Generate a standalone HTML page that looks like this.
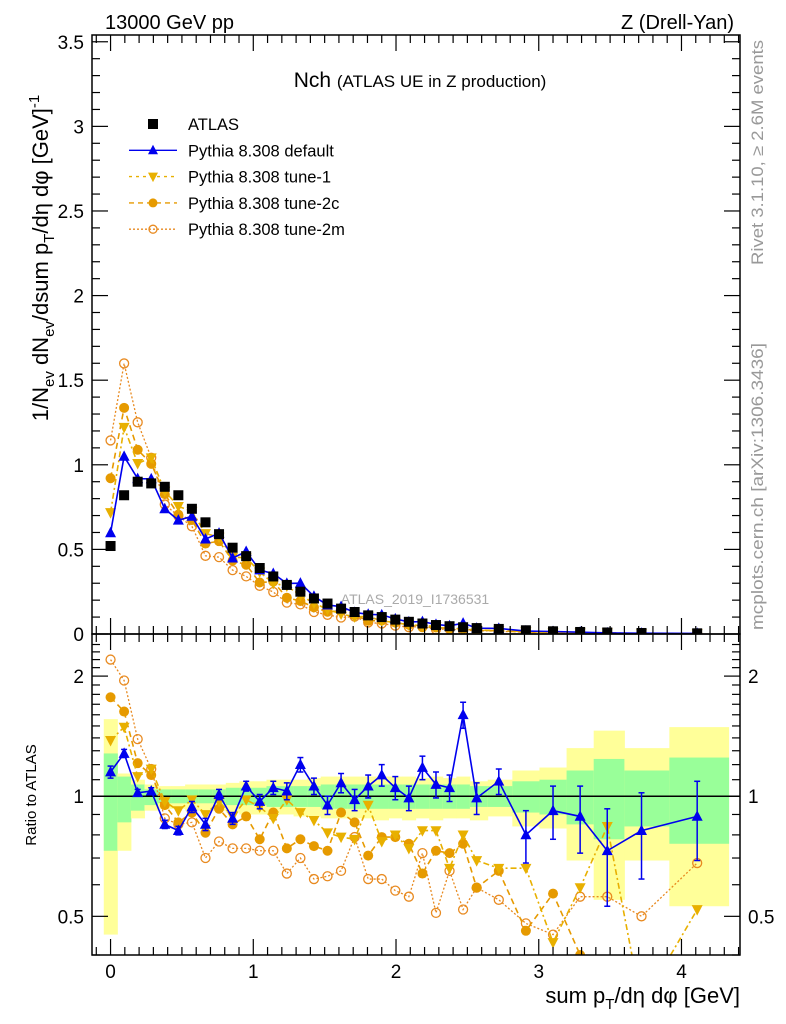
<!DOCTYPE html>
<html><head><meta charset="utf-8">
<style>
html,body{margin:0;padding:0;background:#fff;}
svg{display:block;font-family:"Liberation Sans",Arial,sans-serif;}
</style></head>
<body>
<svg id="chart" width="786" height="1024" viewBox="0 0 786 1024" xmlns="http://www.w3.org/2000/svg">
<text x="105" y="29" font-size="20">13000 GeV pp</text>
<text x="734" y="29" font-size="20" text-anchor="end">Z (Drell-Yan)</text>
<text x="420" y="87" font-size="21" text-anchor="middle">Nch <tspan font-size="17">(ATLAS UE in Z production)</tspan></text>
<text transform="translate(763,265) rotate(-90)" font-size="16.5" fill="#999" textLength="225" lengthAdjust="spacingAndGlyphs">Rivet 3.1.10, ≥ 2.6M events</text>
<text transform="translate(763,630) rotate(-90)" font-size="16.5" fill="#999" textLength="287" lengthAdjust="spacingAndGlyphs">mcplots.cern.ch [arXiv:1306.3436]</text>
<text x="415" y="604" font-size="14" fill="#aaa" text-anchor="middle">ATLAS_2019_I1736531</text>
<text transform="translate(48,258) rotate(-90)" font-size="22" text-anchor="middle">1/N<tspan font-size="15" dy="6">ev</tspan><tspan dy="-6"> dN</tspan><tspan font-size="15" dy="6">ev</tspan><tspan dy="-6">/dsum p</tspan><tspan font-size="15" dy="6">T</tspan><tspan dy="-6">/dη dφ  [GeV]</tspan><tspan font-size="15" dy="-9">-1</tspan></text>
<text transform="translate(36,795) rotate(-90)" font-size="15" text-anchor="middle">Ratio to ATLAS</text>
<text x="740" y="1003" font-size="22" text-anchor="end">sum p<tspan font-size="15" dy="6">T</tspan><tspan dy="-6">/dη dφ [GeV]</tspan></text>
<g id="main"></g>
<g id="ratio"></g>
<g id="legend"></g>
</svg>
<script>
const xVals = [0,0.095,0.19,0.285,0.38,0.475,0.57,0.665,0.76,0.855,0.95,1.045,1.14,1.235,1.33,1.425,1.52,1.615,1.71,1.805,1.9,1.995,2.09,2.185,2.28,2.375,2.47,2.565,2.72,2.91,3.10,3.29,3.48,3.72,4.11];
const atlasVals = [0.52,0.82,0.9,0.89,0.87,0.82,0.74,0.66,0.59,0.51,0.46,0.39,0.34,0.29,0.25,0.21,0.18,0.15,0.13,0.11,0.1,0.085,0.072,0.062,0.053,0.046,0.04,0.035,0.03,0.022,0.016,0.012,0.009,0.006,0.004];
const ratioDefault = [1.15,1.28,1.02,1.03,0.85,0.82,0.94,0.85,1.01,0.88,1.06,0.97,1.05,1.03,1.2,1.06,0.95,1.08,0.98,1.06,1.13,1.05,0.99,1.18,1.07,1.05,1.6,0.99,1.09,0.80,0.92,0.89,0.73,0.82,0.89];
const errDefault = [0.04,0.03,0.02,0.02,0.02,0.02,0.03,0.03,0.03,0.03,0.03,0.04,0.04,0.05,0.05,0.05,0.05,0.06,0.06,0.07,0.07,0.07,0.07,0.08,0.08,0.08,0.12,0.09,0.08,0.12,0.14,0.17,0.2,0.2,0.2];
const ratioTune1 = [1.38,1.49,1.12,1.17,0.97,0.92,0.98,0.90,0.97,0.89,0.98,0.94,0.88,0.98,0.91,0.87,0.81,0.79,0.78,0.95,0.77,0.80,0.74,0.82,0.82,0.66,0.80,0.69,0.66,0.66,0.43,0.59,0.84,0.30,0.52];
const ratioTune2c = [1.77,1.63,1.21,1.13,0.95,0.86,0.91,0.81,0.93,0.85,0.89,0.78,0.91,0.74,0.78,0.75,0.73,0.91,0.86,0.71,0.79,0.79,0.76,0.64,0.73,0.72,0.76,0.59,0.65,0.46,0.57,0.40,0.30,0.30,0.30];
const ratioTune2m = [2.2,1.95,1.39,1.17,0.88,0.85,0.86,0.70,0.77,0.74,0.74,0.73,0.73,0.64,0.70,0.62,0.63,0.65,0.79,0.62,0.62,0.58,0.56,0.72,0.51,0.65,0.52,0.59,0.55,0.48,0.45,0.56,0.56,0.50,0.68];
const yellowUp = [1.56,1.14,1.1,1.07,1.06,1.06,1.07,1.07,1.07,1.08,1.09,1.09,1.1,1.1,1.1,1.11,1.12,1.12,1.12,1.12,1.12,1.12,1.12,1.11,1.12,1.11,1.12,1.09,1.1,1.16,1.18,1.32,1.46,1.32,1.49];
const yellowDn = [0.45,0.73,0.88,0.92,0.93,0.93,0.92,0.92,0.92,0.91,0.9,0.9,0.9,0.9,0.89,0.89,0.88,0.88,0.88,0.88,0.87,0.88,0.87,0.88,0.87,0.88,0.88,0.87,0.89,0.84,0.83,0.69,0.55,0.69,0.53];
const greenUp = [1.28,1.12,1.07,1.04,1.04,1.04,1.04,1.04,1.04,1.05,1.05,1.05,1.06,1.06,1.06,1.06,1.07,1.07,1.07,1.07,1.07,1.07,1.07,1.07,1.07,1.07,1.07,1.06,1.06,1.09,1.1,1.16,1.24,1.16,1.25];
const greenDn = [0.73,0.86,0.92,0.95,0.96,0.96,0.96,0.96,0.96,0.95,0.95,0.95,0.94,0.94,0.94,0.94,0.93,0.93,0.93,0.93,0.93,0.93,0.93,0.93,0.93,0.93,0.93,0.94,0.94,0.91,0.9,0.85,0.78,0.84,0.76];
const mainTicks = [0,0.5,1,1.5,2,2.5,3,3.5];
const mainTickLabels = ["0","0.5","1","1.5","2","2.5","3","3.5"];
const ratioTicks = [0.5,1,2];
const ratioTickLabels = ["0.5","1","2"];
const xTicks = [0,1,2,3,4];
const xTickLabels = ["0","1","2","3","4"];

const NS="http://www.w3.org/2000/svg";
const L=92,R=740,T=35,MB=634,RB=955;
const X0=-0.13, X1=4.41;
const sx=v=>L+(v-X0)/(X1-X0)*(R-L);
const syM=v=>MB-v/3.54*(MB-T);
const RLO=Math.log10(0.4), RHI=Math.log10(2.55);
const syR=v=>RB-(Math.log10(Math.max(v,0.3))-RLO)/(RHI-RLO)*(RB-MB);
function el(tag,attrs,parent){const e=document.createElementNS(NS,tag);for(const k in attrs)e.setAttribute(k,attrs[k]);parent.appendChild(e);return e;}
const main=document.getElementById('main'), ratio=document.getElementById('ratio'), leg=document.getElementById('legend');

const C_BLUE="#0000ee", C_T1="#e8b000", C_T2C="#e69a00", C_T2M="#e88a20";
const mcSeries=[
 {name:'default',r:ratioDefault,c:C_BLUE,dash:'',m:'tu'},
 {name:'tune-1',r:ratioTune1,c:C_T1,dash:'6,3,2,3',m:'td'},
 {name:'tune-2c',r:ratioTune2c,c:C_T2C,dash:'6,4',m:'cf'},
 {name:'tune-2m',r:ratioTune2m,c:C_T2M,dash:'2,2',m:'co'}];

function edge(i){ if(i===0) return xVals[0]-(xVals[1]-xVals[0])/2; if(i===xVals.length) return 4.33; return (xVals[i-1]+xVals[i])/2; }
for(let i=0;i<xVals.length;i++){
  const x0=sx(edge(i)),x1=sx(edge(i+1));
  const y=el('rect',{x:x0,y:syR(yellowUp[i]),width:x1-x0+0.5,height:syR(yellowDn[i])-syR(yellowUp[i]),fill:'#ffff99'},ratio);
  
  
  const g=el('rect',{x:x0,y:syR(greenUp[i]),width:x1-x0+0.5,height:syR(greenDn[i])-syR(greenUp[i]),fill:'#99ff99'},ratio);
  
  
}
el('line',{x1:L,x2:R,y1:syR(1),y2:syR(1),stroke:'#000','stroke-width':1.5},ratio);

function marker(type,x,y,c,parent,s){
  s=s||5.5;let e;
  if(type==='sq') e=el('rect',{x:x-5,y:y-5,width:10,height:10,fill:'#000'},parent);
  else if(type==='tu') e=el('polygon',{points:`${x-s},${y+s*0.8} ${x+s},${y+s*0.8} ${x},${y-s*1.1}`,fill:c},parent);
  else if(type==='td') e=el('polygon',{points:`${x-s},${y-s*0.8} ${x+s},${y-s*0.8} ${x},${y+s*1.1}`,fill:c},parent);
  else if(type==='cf') e=el('circle',{cx:x,cy:y,r:s-0.5,fill:c},parent);
  else e=el('circle',{cx:x,cy:y,r:s-1,fill:'none',stroke:c,'stroke-width':1.3},parent);
  return e;
}
function drawSeries(g,ys,s,isRatio){
  const pts=xVals.map((x,i)=>[sx(x),ys[i]]);
  const pl=el('polyline',{points:pts.map(p=>p.join(',')).join(' '),fill:'none',stroke:s.c,'stroke-width':s.dash==='2,2'?1.3:1.6,'stroke-dasharray':s.dash},g);
  
  
  pts.forEach((p,i)=>{
    if(isRatio && p[1]>RB+2) return;
    if(isRatio && s.name==='default'){
      const e=errDefault[i];
      el('line',{x1:p[0],x2:p[0],y1:syR(s.r[i]+e),y2:syR(s.r[i]-e),stroke:s.c,'stroke-width':1.5},g);
      el('line',{x1:p[0]-3,x2:p[0]+3,y1:syR(s.r[i]+e),y2:syR(s.r[i]+e),stroke:s.c,'stroke-width':1.5},g);
      el('line',{x1:p[0]-3,x2:p[0]+3,y1:syR(s.r[i]-e),y2:syR(s.r[i]-e),stroke:s.c,'stroke-width':1.5},g);
    }
    const m=marker(s.m,p[0],p[1],s.c,g);
    
    
  });
}
const clipR=el('clipPath',{id:'clipR'},ratio);el('rect',{x:L,y:MB,width:R-L,height:RB-MB},clipR);
const clipM=el('clipPath',{id:'clipM'},main);el('rect',{x:L,y:T,width:R-L,height:MB-T},clipM);
const gm=el('g',{'clip-path':'url(#clipM)'},main);
const gr=el('g',{'clip-path':'url(#clipR)'},ratio);
[...mcSeries].reverse().forEach(s=>{
  drawSeries(gm,atlasVals.map((a,i)=>syM(a*s.r[i])),s,false);
  drawSeries(gr,s.r.map(v=>syR(v)),s,true);
});
xVals.forEach((x,i)=>{
  const m=marker('sq',sx(x),syM(atlasVals[i]),'#000',gm);
  
  
});

el('rect',{x:L,y:T,width:R-L,height:MB-T,fill:'none',stroke:'#000','stroke-width':1.5},main);
el('rect',{x:L,y:MB,width:R-L,height:RB-MB,fill:'none',stroke:'#000','stroke-width':1.5},ratio);
function tk(x1,y1,x2,y2,p){el('line',{x1,y1,x2,y2,stroke:'#000','stroke-width':1.2},p);}
for(let v=0;v<=3.5001;v+=0.1){const y=syM(v);const maj=Math.abs(v*2-Math.round(v*2))<1e-6;const len=maj?16:8;tk(L,y,L+len,y,main);tk(R,y,R-len,y,main);}
mainTicks.forEach((v,i)=>{const t=el('text',{x:L-8,y:syM(v)+7,'font-size':19,'text-anchor':'end'},main);t.textContent=mainTickLabels[i];
 
 });
for(let v=0.4;v<=2.5;v+=0.1){const y=syR(v);const maj=[0.5,1,2].some(q=>Math.abs(q-v)<1e-6);const len=maj?16:8;tk(L,y,L+len,y,ratio);tk(R,y,R-len,y,ratio);}
ratioTicks.forEach((v,i)=>{
 const t=el('text',{x:L-8,y:syR(v)+7,'font-size':19,'text-anchor':'end'},ratio);t.textContent=ratioTickLabels[i];
 
 
 const t2=el('text',{x:R+8,y:syR(v)+7,'font-size':19},ratio);t2.textContent=ratioTickLabels[i];
 
 });
for(let k=-1;k<=44;k++){const v=k/10;if(v<X0||v>X1)continue;const x=sx(v);const maj=k%10===0;const len=maj?16:8;
 tk(x,T,x,T+len,main);tk(x,MB,x,MB-len,main);tk(x,MB,x,MB+len,ratio);tk(x,RB,x,RB-len,ratio);}
xTicks.forEach((v,i)=>{const t=el('text',{x:sx(v),y:RB+23,'font-size':19,'text-anchor':'middle'},ratio);t.textContent=xTickLabels[i];
 
 });

const legRows=[{n:'ATLAS',m:'sq',c:'#000',d:null},{n:'Pythia 8.308 default',m:'tu',c:C_BLUE,d:''},{n:'Pythia 8.308 tune-1',m:'td',c:C_T1,d:'3,4'},{n:'Pythia 8.308 tune-2c',m:'cf',c:C_T2C,d:'5,4'},{n:'Pythia 8.308 tune-2m',m:'co',c:C_T2M,d:'2,2'}];
legRows.forEach((r,i)=>{const y=124+i*26.3;
 const g=el('g',{},leg);
 
 
 if(r.d!==null) el('line',{x1:129,x2:177,y1:y,y2:y,stroke:r.c,'stroke-width':1.4,'stroke-dasharray':r.d},g);
 marker(r.m,153,y,r.c,g,5);
 const t=el('text',{x:188,y:y+6,'font-size':16.5},g);t.textContent=r.n;});
</script>
</body></html>
